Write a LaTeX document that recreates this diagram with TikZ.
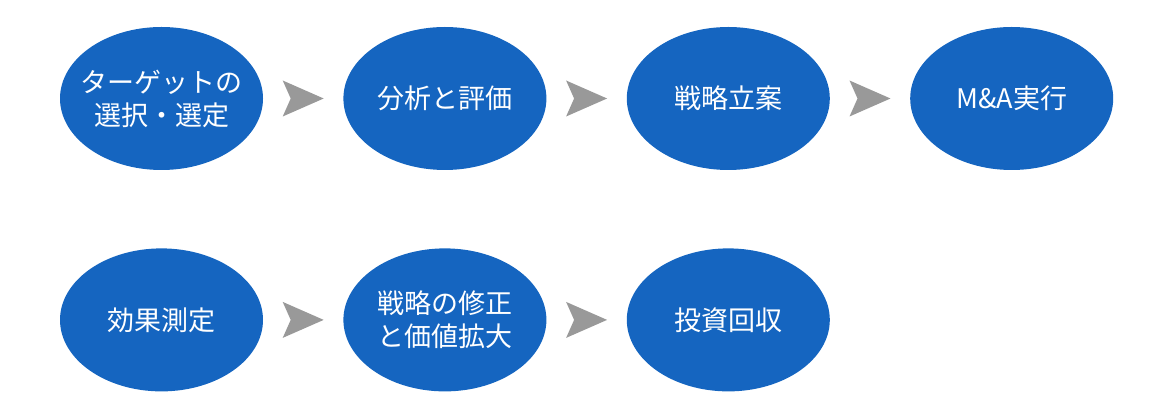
\documentclass[tikz,border=0pt]{standalone}
\usepackage{fontspec}
\setmainfont{Noto Sans CJK JP}
\usepackage{xcolor}
\usetikzlibrary{shapes.geometric,positioning,calc}
\definecolor{stepblue}{HTML}{1565C0}
\definecolor{stepgrey}{HTML}{999999}
\newcommand{\stepchevron}[2]{%
  \path ($(#1.east)!0.5!(#2.west)$) coordinate (#1#2);
  \fill[chevron] ([shift={(-20.5,18)}]#1#2) -- ([shift={(20.5,0)}]#1#2)
    -- ([shift={(-20.5,-18)}]#1#2) -- ([shift={(-12.5,0)}]#1#2) -- cycle;}

\begin{document}
\begin{tikzpicture}[
  x=1pt,
  y=1pt,
  node distance=80pt and 80pt,
  stepbox/.style={ellipse, fill=stepblue, text=white, inner xsep=-12pt,
                  inner ysep=0pt, minimum width=203pt, minimum height=143pt,
                  align=center, font=\fontsize{27pt}{33pt}\selectfont},
  chevron/.style={fill=stepgrey}
]
  % ---- frame ---------------------------------------------------------
  \useasboundingbox (0,0) rectangle (1170,420);

  % ---- first row -----------------------------------------------------
  \node[stepbox] (target) at (161.5,321.5) {ターゲットの\\選択・選定};
  \node[stepbox, right=of target] (analysis) {分析と評価};
  \node[stepbox, right=of analysis] (strategy) {戦略立案};
  \node[stepbox, right=of strategy] (execute) {M\&A実行};

  % ---- second row ----------------------------------------------------
  \node[stepbox, below=78pt of target] (measure) {効果測定};
  \node[stepbox, right=of measure] (revise) {戦略の修正\\と価値拡大};
  \node[stepbox, right=of revise] (recover) {投資回収};

  % ---- chevrons ------------------------------------------------------
  \stepchevron{target}{analysis}
  \stepchevron{analysis}{strategy}
  \stepchevron{strategy}{execute}
  \stepchevron{measure}{revise}
  \stepchevron{revise}{recover}

\end{tikzpicture}
\end{document}
